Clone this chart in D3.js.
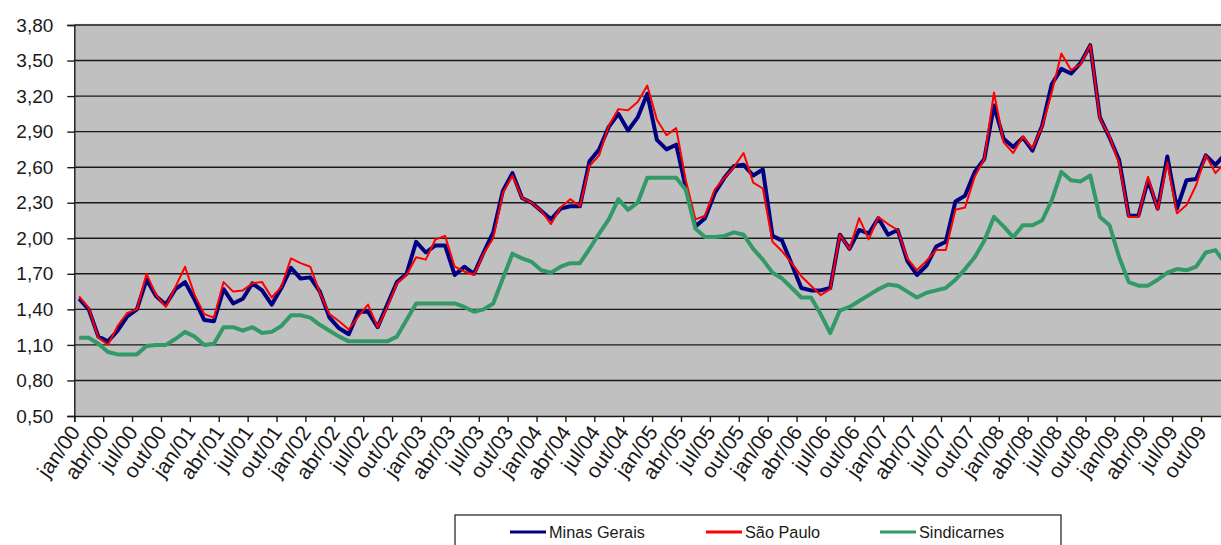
<!DOCTYPE html>
<html>
<head>
<meta charset="utf-8">
<script src="https://cdn.jsdelivr.net/npm/d3@7"></script>
<style>
  html, body { margin: 0; padding: 0; background: #fff; }
  svg { display: block; }
  text { font-family: "Liberation Sans", Arial, sans-serif; fill: #1a1a1a; }
</style>
</head>
<body>
<svg id="chart" width="1221" height="545"></svg>
<script>
const monthNames = ["jan","fev","mar","abr","mai","jun","jul","ago","set","out","nov","dez"];
const years = ["00","01","02","03","04","05","06","07","08","09"];
const categories = [];
years.forEach(y => monthNames.forEach(m => categories.push(m + "/" + y)));

const yTicks = [0.5, 0.8, 1.1, 1.4, 1.7, 2.0, 2.3, 2.6, 2.9, 3.2, 3.5, 3.8];

const seriesNames = ["Minas Gerais", "São Paulo", "Sindicarnes"];
const seriesColors = ["#000080", "#ff0000", "#339966"];

const minasGerais = [
  1.49,1.40,1.17,1.13,1.22,1.34,1.40,1.65,1.51,1.44,1.57,1.63,
  1.48,1.31,1.30,1.57,1.45,1.49,1.62,1.56,1.44,1.58,1.75,1.66,
  1.67,1.55,1.33,1.24,1.19,1.38,1.38,1.25,1.44,1.63,1.70,1.97,
  1.88,1.94,1.94,1.69,1.76,1.70,1.88,2.05,2.40,2.55,2.34,2.30,
  2.23,2.16,2.25,2.27,2.27,2.65,2.75,2.94,3.05,2.91,3.02,3.22,
  2.83,2.75,2.79,2.43,2.10,2.17,2.38,2.51,2.61,2.62,2.53,2.58,
  2.02,1.98,1.78,1.58,1.56,1.56,1.58,2.03,1.91,2.07,2.04,2.17,
  2.03,2.07,1.81,1.69,1.77,1.93,1.97,2.31,2.36,2.56,2.67,3.12,
  2.84,2.77,2.85,2.74,2.95,3.30,3.43,3.39,3.48,3.63,3.02,2.85,
  2.66,2.19,2.19,2.49,2.25,2.69,2.25,2.49,2.50,2.70,2.62,2.71
];
const saoPaulo = [
  1.51,1.41,1.16,1.10,1.26,1.37,1.40,1.70,1.52,1.42,1.59,1.76,
  1.52,1.36,1.33,1.63,1.55,1.56,1.62,1.63,1.50,1.59,1.83,1.79,
  1.76,1.54,1.36,1.30,1.23,1.34,1.44,1.25,1.42,1.62,1.69,1.84,
  1.82,1.99,2.02,1.76,1.72,1.69,1.87,2.00,2.38,2.53,2.34,2.30,
  2.23,2.12,2.26,2.33,2.27,2.61,2.70,2.95,3.09,3.08,3.15,3.29,
  3.00,2.87,2.93,2.49,2.16,2.19,2.41,2.51,2.60,2.72,2.47,2.42,
  1.97,1.89,1.79,1.68,1.60,1.52,1.57,2.03,1.91,2.17,1.99,2.18,
  2.12,2.07,1.83,1.73,1.81,1.90,1.90,2.24,2.26,2.52,2.67,3.23,
  2.81,2.72,2.86,2.76,2.94,3.23,3.56,3.42,3.47,3.63,3.01,2.86,
  2.63,2.18,2.18,2.52,2.24,2.64,2.21,2.28,2.45,2.70,2.55,2.64
];
const sindicarnes = [
  1.16,1.16,1.11,1.04,1.02,1.02,1.02,1.09,1.10,1.10,1.15,1.21,
  1.17,1.10,1.11,1.25,1.25,1.22,1.25,1.20,1.21,1.26,1.35,1.35,
  1.33,1.27,1.22,1.17,1.13,1.13,1.13,1.13,1.13,1.17,1.31,1.45,
  1.45,1.45,1.45,1.45,1.42,1.38,1.40,1.45,1.66,1.87,1.83,1.80,
  1.73,1.71,1.76,1.79,1.79,1.91,2.04,2.16,2.33,2.24,2.30,2.51,
  2.51,2.51,2.51,2.41,2.08,2.01,2.01,2.02,2.05,2.03,1.91,1.82,
  1.71,1.66,1.58,1.50,1.50,1.36,1.20,1.39,1.42,1.47,1.52,1.57,
  1.61,1.60,1.55,1.50,1.54,1.56,1.58,1.65,1.74,1.84,1.98,2.18,
  2.10,2.01,2.11,2.11,2.15,2.32,2.56,2.49,2.48,2.53,2.18,2.11,
  1.84,1.63,1.60,1.60,1.65,1.71,1.74,1.73,1.76,1.88,1.90,1.79
];
const seriesValues = [minasGerais, saoPaulo, sindicarnes];
const seriesWidths = [4, 2, 4];

const svg = d3.select("#chart");
const plotLeft = 74.3, plotTop = 25, plotBottom = 416;
const monthW = 9.63;
const n = categories.length;
const plotRight = plotLeft + n * monthW;

const x = d3.scaleLinear().domain([0, n]).range([plotLeft, plotRight]);
const y = d3.scaleLinear().domain([0.5, 3.8]).range([plotBottom, plotTop]);

const ptLocale = d3.formatLocale({decimal: ",", thousands: ".", grouping: [3], currency: ["R$", ""]});
const fmt = ptLocale.format(".2f");

// plot background
svg.append("rect")
  .attr("x", plotLeft).attr("y", plotTop)
  .attr("width", plotRight - plotLeft).attr("height", plotBottom - plotTop)
  .attr("fill", "#c0c0c0");
svg.append("line")
  .attr("x1", plotLeft).attr("x2", plotRight)
  .attr("y1", plotTop - 0.5).attr("y2", plotTop - 0.5)
  .attr("stroke", "#d8d8d8").attr("stroke-width", 1.5);

// gridlines
svg.append("g")
  .selectAll("line")
  .data(yTicks.slice(1))
  .join("line")
  .attr("x1", plotLeft).attr("x2", plotRight)
  .attr("y1", d => y(d)).attr("y2", d => y(d))
  .attr("stroke", "#1a1a1a").attr("stroke-width", 1.4);

// y axis
const yAxis = svg.append("g")
  .attr("transform", `translate(${plotLeft},0)`)
  .call(d3.axisLeft(y).tickValues(yTicks).tickFormat(fmt).tickSize(7).tickPadding(14));
yAxis.select(".domain").attr("stroke", "#1a1a1a").attr("stroke-width", 1.4);
yAxis.selectAll(".tick line").attr("stroke", "#1a1a1a").attr("stroke-width", 1.4);
yAxis.selectAll(".tick text")
  .attr("font-size", 19).attr("font-family", "Liberation Sans, Arial, sans-serif").attr("fill", "#1a1a1a");

// x axis
const xTickVals = d3.range(0, n, 3);
const xAxis = svg.append("g")
  .attr("transform", `translate(0,${plotBottom})`)
  .call(d3.axisBottom(x).tickValues(xTickVals).tickFormat(i => categories[i]).tickSize(6));
xAxis.select(".domain").attr("stroke", "#1a1a1a").attr("stroke-width", 1.4);
xAxis.selectAll(".tick line").attr("stroke", "#1a1a1a").attr("stroke-width", 1.4);
xAxis.selectAll(".tick text")
  .attr("font-size", 21).attr("font-family", "Liberation Sans, Arial, sans-serif").attr("fill", "#1a1a1a")
  .attr("text-anchor", "end")
  .attr("transform", "translate(0,12) rotate(-55)")
  .attr("x", 0).attr("y", 0).attr("dy", "0.35em");

// lines
const line = d3.line().x((d, i) => x(i + 0.5)).y(d => y(d));
svg.append("g")
  .selectAll("path")
  .data(seriesValues)
  .join("path")
  .attr("d", d => line(d))
  .attr("fill", "none")
  .attr("stroke", (d, i) => seriesColors[i])
  .attr("stroke-width", (d, i) => seriesWidths[i])
  .attr("stroke-linejoin", "round");

// legend
const legend = svg.append("g");
legend.append("rect")
  .attr("x", 455).attr("y", 515).attr("width", 606).attr("height", 40)
  .attr("fill", "#fff").attr("stroke", "#1a1a1a").attr("stroke-width", 1.2);
const legX = [510, 706, 880];
seriesNames.forEach((name, i) => {
  legend.append("line")
    .attr("x1", legX[i]).attr("x2", legX[i] + 36)
    .attr("y1", 532).attr("y2", 532)
    .attr("stroke", seriesColors[i]).attr("stroke-width", 3);
  legend.append("text")
    .attr("x", legX[i] + 39).attr("y", 532).attr("dy", "0.35em")
    .attr("font-size", 16.3)
    .text(name);
});
</script>
</body>
</html>
